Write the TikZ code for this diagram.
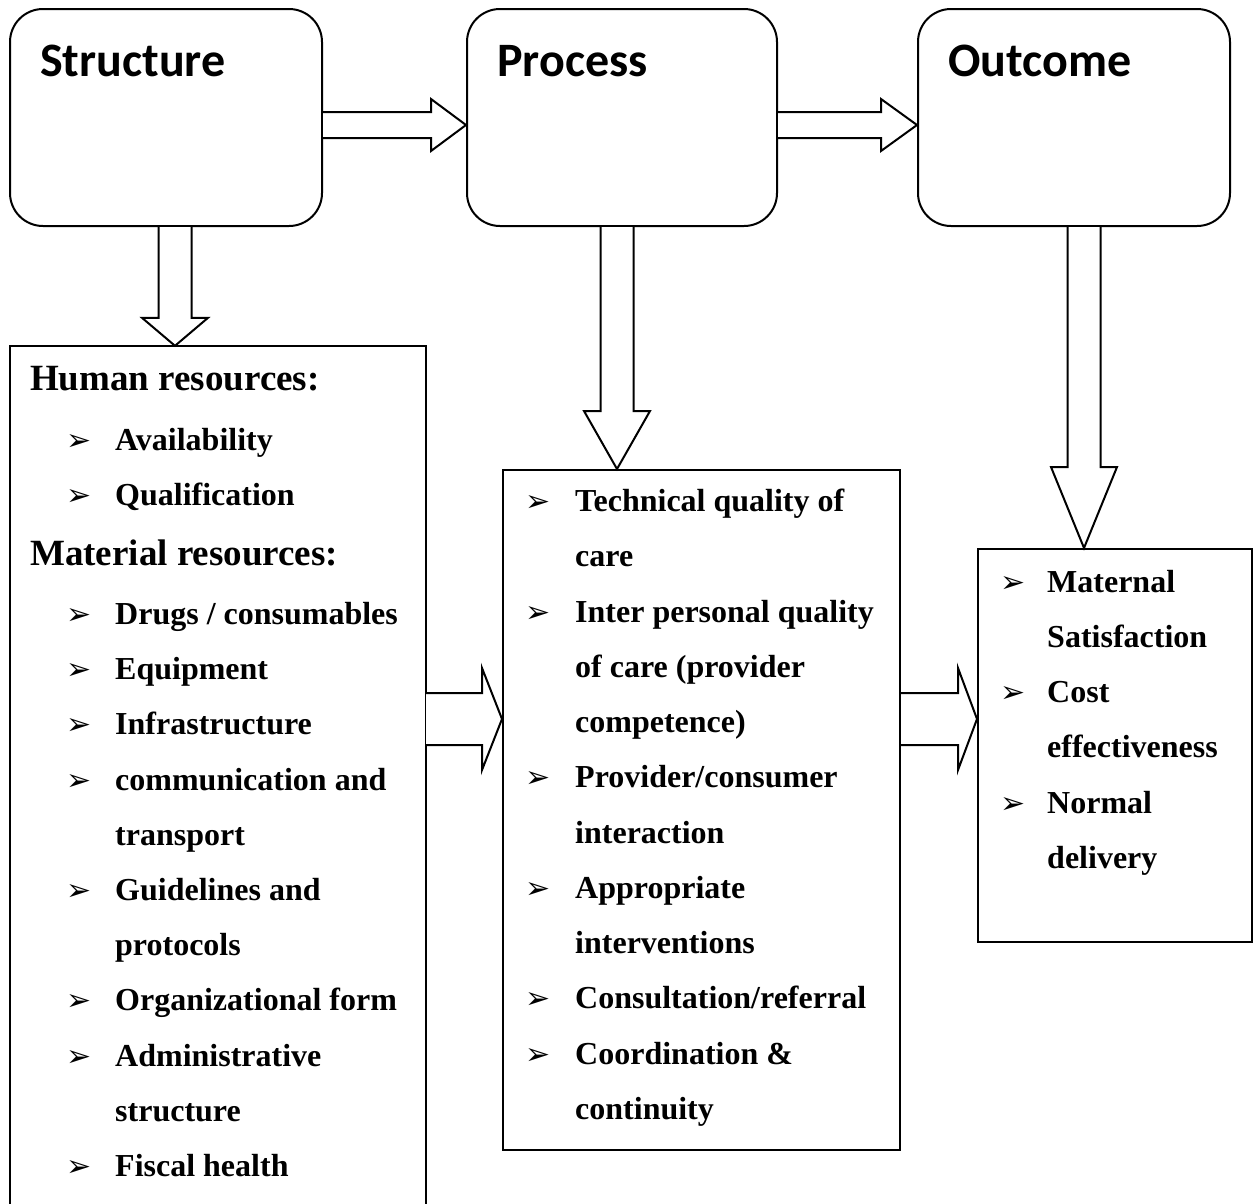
\documentclass[tikz,border=0pt]{standalone}
\usepackage{fontspec}
\setmainfont{Liberation Serif}
\newfontfamily\calib{Carlito}
\newfontfamily\dvs{DejaVu Sans}
\usetikzlibrary{calc}
\tikzset{
  rbox/.style={draw, line width=2pt, rounded corners=33pt, inner sep=0pt},
  lbox/.style={draw, line width=2pt, inner sep=0pt},
  blk/.style={draw, line width=2pt, fill=white, line join=miter},
  ttl/.style={anchor=base west, inner sep=0pt, font=\calib\bfseries\fontsize{48}{48}\selectfont},
  hdg/.style={anchor=base west, inner sep=0pt, font=\bfseries\fontsize{37}{37}\selectfont},
  itm/.style={anchor=base west, inner sep=0pt, font=\bfseries\fontsize{32}{32}\selectfont},
  bul/.style={anchor=base west, inner sep=0pt, font=\dvs\fontsize{30}{30}\selectfont}
}
\newcommand\blt[5]{\node[bul] (#1b) at (#2,#4) {➢}; \node[itm] (#1) at (#3,#4) {#5};}
\newcommand\cnt[4]{\node[itm] (#1) at (#2,#3) {#4};}
\newcommand\harr[5]{\draw[blk] let \p1=#1, \p2=#2 in
  (\x1,\y2+#3pt) -- (\x2-#5pt,\y2+#3pt) -- (\x2-#5pt,\y2+#4pt) -- (\x2,\y2)
  -- (\x2-#5pt,\y2-#4pt) -- (\x2-#5pt,\y2-#3pt) -- (\x1,\y2-#3pt);}
\newcommand\varr[5]{\draw[blk] let \p1=#1, \p2=#2 in
  (\x2-#3pt,\y1) -- (\x2-#3pt,\y2+#5pt) -- (\x2-#4pt,\y2+#5pt) -- (\x2,\y2)
  -- (\x2+#4pt,\y2+#5pt) -- (\x2+#3pt,\y2+#5pt) -- (\x2+#3pt,\y1);}
\begin{document}
\begin{tikzpicture}[x=1pt,y=-1pt]
\useasboundingbox[fill=white] (0,0) rectangle (1260,1203);
% helper coordinates
\coordinate (y125) at (0,125);
\coordinate (y719) at (0,719);
\coordinate (x175) at (175,0);
\coordinate (x617) at (617,0);
\coordinate (x1084) at (1084,0);
% top rounded boxes
\node[rbox, minimum width=312pt, minimum height=217pt] (s) at (166,117.5) {};
\node[rbox, minimum width=310pt, minimum height=217pt] (p) at (622,117.5) {};
\node[rbox, minimum width=312pt, minimum height=217pt] (o) at (1074,117.5) {};
\node[ttl] (st) at (40,76) {Structure};
\node[ttl] (pt) at (497,76) {Process};
\node[ttl] (ot) at (948,76) {Outcome};
% lower boxes
\node[inner sep=0pt, minimum width=416pt, minimum height=869pt] (hr) at (218,780.5) {};
\draw[line width=2pt] (hr.south west) -- (hr.north west) -- (hr.north east) -- (hr.south east);
\node[lbox, minimum width=397pt, minimum height=680pt] (pl) at (701.5,810) {};
\node[lbox, minimum width=274pt, minimum height=393pt] (ol) at (1115,745.5) {};
% arrows
\harr{(s.east |- y125)}{(p.west |- y125)}{13}{26}{35}
\harr{(p.east |- y125)}{(o.west |- y125)}{13}{26}{36}
\varr{(s.south -| x175)}{(hr.north -| x175)}{16.5}{33}{28}
\varr{(p.south -| x617)}{(pl.north -| x617)}{16.5}{33}{58}
\varr{(o.south -| x1084)}{(ol.north -| x1084)}{16.5}{33}{81}
\harr{(hr.east |- y719)}{(pl.west |- y719)}{26}{51}{20}
\harr{(pl.east |- y719)}{(ol.west |- y719)}{26}{51}{19}
% left list
\node[hdg] (h1) at (30,390) {Human resources:};
\blt{a1}{66}{115}{450}{Availability}
\blt{a2}{66}{115}{505}{Qualification}
\node[hdg] (h2) at (30,565) {Material resources:};
\blt{m1}{66}{115}{624}{Drugs / consumables}
\blt{m2}{66}{115}{679}{Equipment}
\blt{m3}{66}{115}{734}{Infrastructure}
\blt{m4}{66}{115}{790}{communication and}
\cnt{m4c}{115}{845}{transport}
\blt{m5}{66}{115}{900}{Guidelines and}
\cnt{m5c}{115}{955}{protocols}
\blt{m6}{66}{115}{1010}{Organizational form}
\blt{m7}{66}{115}{1066}{Administrative}
\cnt{m7c}{115}{1121}{structure}
\blt{m8}{66}{115}{1176}{Fiscal health}
% process list
\blt{p1}{525}{575}{511}{Technical quality of}
\cnt{p1c}{575}{566}{care}
\blt{p2}{525}{575}{622}{Inter personal quality}
\cnt{p2c}{575}{677}{of care (provider}
\cnt{p2d}{575}{732}{competence)}
\blt{p3}{525}{575}{787}{Provider/consumer}
\cnt{p3c}{575}{843}{interaction}
\blt{p4}{525}{575}{898}{Appropriate}
\cnt{p4c}{575}{953}{interventions}
\blt{p5}{525}{575}{1008}{Consultation/referral}
\blt{p6}{525}{575}{1064}{Coordination \&}
\cnt{p6c}{575}{1119}{continuity}
% outcome list
\blt{o1}{1000}{1047}{592}{Maternal}
\cnt{o1c}{1047}{647}{Satisfaction}
\blt{o2}{1000}{1047}{702}{Cost}
\cnt{o2c}{1047}{757}{effectiveness}
\blt{o3}{1000}{1047}{813}{Normal}
\cnt{o3c}{1047}{868}{delivery}
\end{tikzpicture}
\end{document}
